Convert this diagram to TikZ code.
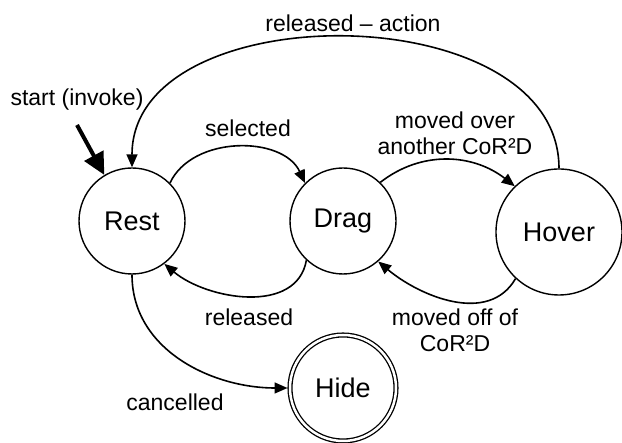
\documentclass[tikz,border=0pt]{standalone}
\usepackage{fontspec}
\setmainfont{Liberation Sans}
\usetikzlibrary{arrows.meta}

\begin{document}
\begin{tikzpicture}[x=1pt,y=1pt,
  state/.style={circle,draw,line width=1.4pt,inner sep=0pt,
                font=\fontsize{27}{30}\selectfont},
  lbl/.style={font=\fontsize{23}{26}\selectfont,align=center,inner sep=0pt},
  trans/.style={line width=1.6pt,-{Triangle[length=13pt,width=11pt]}},
  startarrow/.style={line width=4pt,-{Triangle[length=22pt,width=21pt]}},
]
\useasboundingbox (0,0) rectangle (622,443);

% states
\node[state,minimum size=106pt] (rest)  at (132,222) {Rest};
\node[state,minimum size=106pt] (drag)  at (343,222) {Drag};
\node[state,minimum size=126pt] (hover) at (559,211) {Hover};
\node[state,minimum size=106pt,line width=1.3pt,double,double distance=2.5pt,
      outer sep=2.5pt] (hide) at (343,55) {Hide};

% initial transition
\coordinate (init) at (77,318);
\node[lbl] (initlbl) at (77,343) {start (invoke)};
\draw[startarrow] (init) -- (rest.121);

% transitions
\draw[trans] (rest.45) to[out=65,in=115] (drag.135);
\draw[trans] (drag.-133) to[out=-100,in=-40] (rest.-53);
\draw[trans] (drag.46) to[out=38,in=142] (hover.134);
\draw[trans] (hover.-133) to[out=-120,in=-40] (drag.-49);
\draw[trans] (hover.90) to[out=90,in=90,looseness=1.04] (rest.90);
\draw[trans] (rest.-90) to[out=-90,in=180] (hide.west);

% transition labels
\node[lbl] (lselected) at (248,315) {selected};
\node[lbl] (lreleased) at (249,126) {released};
\node[lbl] (lover) at (455,309.5) {moved over\\another CoR²D};
\node[lbl] (loff) at (455,112.5) {moved off of\\CoR²D};
\node[lbl] (laction) at (353,420) {released – action};
\node[lbl] (lcancel) at (175,41) {cancelled};
\end{tikzpicture}
\end{document}
